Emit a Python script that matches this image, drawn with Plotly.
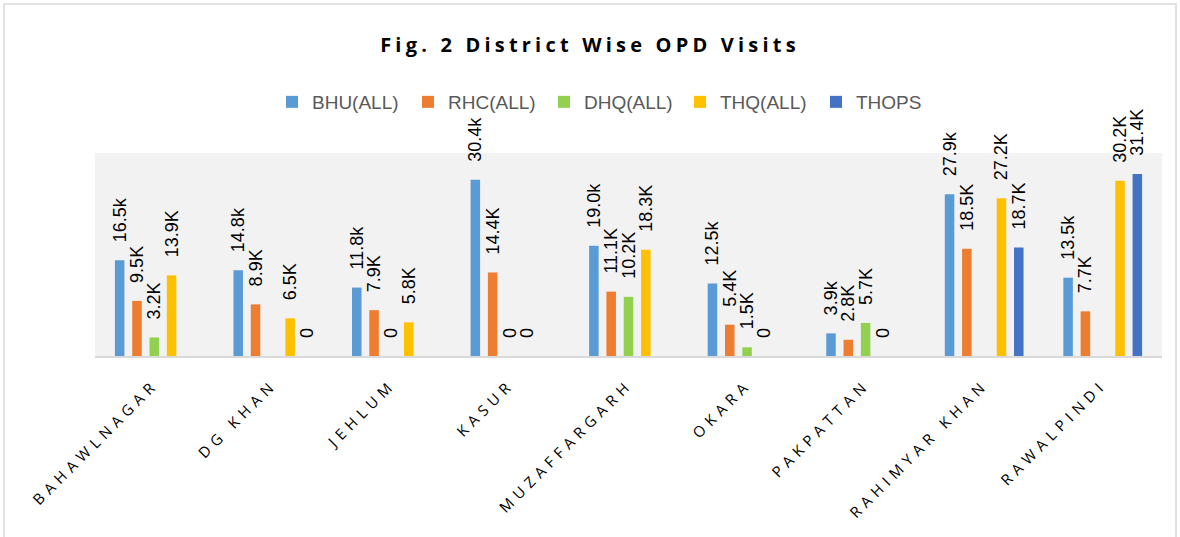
import plotly.graph_objects as go

districts = ["BAHAWLNAGAR", "DG KHAN", "JEHLUM", "KASUR", "MUZAFFARGARH",
             "OKARA", "PAKPATTAN", "RAHIMYAR KHAN", "RAWALPINDI"]

bhu = [16.5, 14.8, 11.8, 30.4, 19.0, 12.5, 3.9, 27.9, 13.5]
rhc = [9.5, 8.9, 7.9, 14.4, 11.1, 5.4, 2.8, 18.5, 7.7]
dhq = [3.2, None, 0, 0, 10.2, 1.5, 5.7, None, None]
thq = [13.9, 6.5, 5.8, 0, 18.3, 0, 0, 27.2, 30.2]
thops = [None, 0, None, None, None, None, None, 18.7, 31.4]

series = [
    ("BHU(ALL)", bhu, "#5B9BD5", "k"),
    ("RHC(ALL)", rhc, "#ED7D31", "K"),
    ("DHQ(ALL)", dhq, "#92D050", "K"),
    ("THQ(ALL)", thq, "#FFC000", "K"),
    ("THOPS", thops, "#4472C4", "K"),
]

def fmt(v, suffix):
    if v is None:
        return ""
    if v == 0:
        return "\u00a0\u00a0\u00a00"
    return "\u00a0\u00a0\u00a0" + f"{v:.1f}{suffix}"

fig = go.Figure()
for name, vals, color, suf in series:
    fig.add_trace(go.Bar(
        name=name,
        x=districts,
        y=[None if v is None else v * 1000 for v in vals],
        marker=dict(color=color, line=dict(width=0)),
        text=[fmt(v, suf) for v in vals],
        textposition="outside",
        textangle=-90,
        constraintext="none",
        cliponaxis=False,
        textfont=dict(family="Liberation Sans, Arial, sans-serif", size=18, color="#000000"),
        hoverinfo="x+y+name",
    ))

L, R, T, B = 95, 18, 153, 181
W, H = 1180, 537
pw = W - L - R
ph = H - T - B

fig.update_layout(
    width=W, height=H,
    margin=dict(l=L, r=R, t=T, b=B, autoexpand=False),
    paper_bgcolor="white",
    plot_bgcolor="#F2F2F2",
    barmode="group",
    bargap=0.27,
    bargroupgap=0.45,
    title=dict(
        text="<b>Fig. 2 District Wise OPD Visits</b>",
        x=0.5, xanchor="center", xref="container",
        y=1 - 45 / H, yanchor="middle",
        font=dict(family="Open Sans, Liberation Sans, sans-serif", size=20, color="#000000"),
    ),
    legend=dict(
        orientation="h",
        x=(272 - L) / pw, xanchor="left",
        y=1 + (T - 102) / ph, yanchor="middle",
        font=dict(family="Liberation Sans, Arial, sans-serif", size=19, color="#595959"),
        entrywidth=91, entrywidthmode="pixels",
        traceorder="normal",
        bgcolor="rgba(0,0,0,0)",
    ),
    xaxis=dict(
        tickangle=-45,
        tickfont=dict(family="Open Sans, Liberation Sans, sans-serif", size=15, color="#000000"),
        showline=True, linecolor="#D9D9D9", linewidth=2,
        ticks="", ticklabelstandoff=12,
        showgrid=False,
        automargin=False,
    ),
    yaxis=dict(
        range=[0, 35000],
        visible=False,
        showgrid=False,
        zeroline=False,
    ),
    shapes=[dict(
        type="rect", xref="paper", yref="paper",
        x0=(4 - L) / pw, x1=(1176 - L) / pw,
        y0=(T + ph - 545) / ph, y1=(T + ph - 4) / ph,
        line=dict(color="#D9D9D9", width=1.5),
        fillcolor="rgba(0,0,0,0)",
        layer="below",
    )],
    showlegend=True,
)

post = """
var s = document.createElement('style');
s.textContent = 'html,body{margin:0;padding:0;overflow:hidden}' +
  ' .xtick text{letter-spacing:5.3px !important}' +
  ' .gtitle{letter-spacing:4.2px !important}';
document.head.appendChild(s);
"""

fig.write_html("out.html", post_script=post, config={"displayModeBar": False})
